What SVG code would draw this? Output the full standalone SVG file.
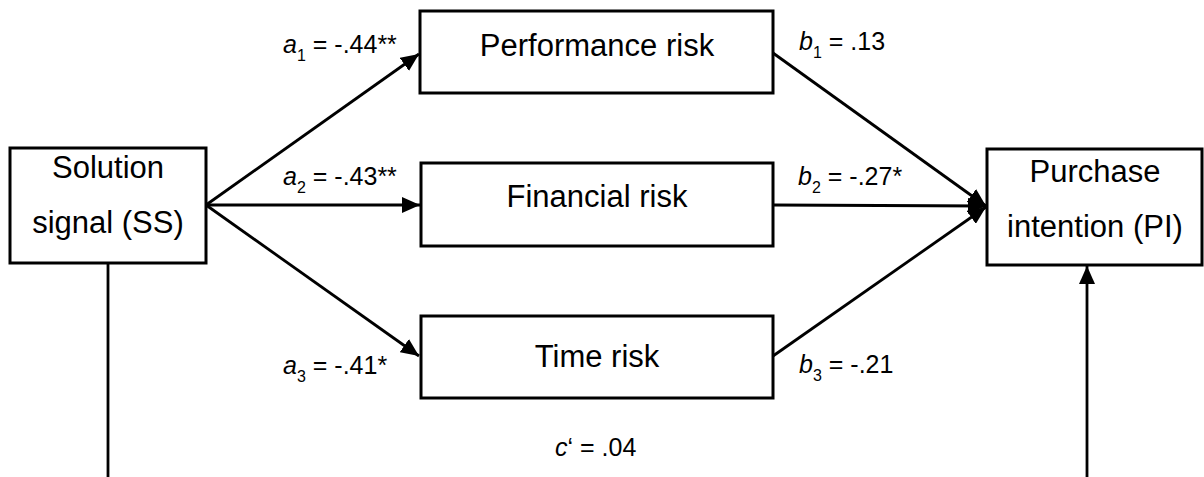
<svg xmlns="http://www.w3.org/2000/svg" width="1204" height="477" viewBox="0 0 1204 477">
<style>
.box{fill:#fff;stroke:#000;stroke-width:3}
.t{font-family:"Liberation Sans",Arial,sans-serif;font-size:31px;fill:#000;text-anchor:middle}
.l{font-family:"Liberation Sans",Arial,sans-serif;font-size:25px;fill:#000}
.s{font-size:16px}
.i{font-style:italic}
.c{stroke:#000;stroke-width:2.8;fill:none}
</style>
<defs>
<marker id="ah" markerUnits="userSpaceOnUse" markerWidth="19" markerHeight="16" refX="18" refY="8" orient="auto">
<path d="M0,0 L18,8 L0,16 z" fill="#000"/>
</marker>
</defs>
<rect width="1204" height="477" fill="#fff"/>
<g id="connectors">
<line class="c" x1="206" y1="205" x2="419" y2="54" marker-end="url(#ah)"/>
<line class="c" x1="206" y1="205" x2="420" y2="205" marker-end="url(#ah)"/>
<line class="c" x1="206" y1="205" x2="419" y2="356" marker-end="url(#ah)"/>
<line class="c" x1="773" y1="53" x2="986" y2="206" marker-end="url(#ah)"/>
<line class="c" x1="773" y1="205" x2="986" y2="206" marker-end="url(#ah)"/>
<line class="c" x1="773" y1="356" x2="986" y2="207" marker-end="url(#ah)"/>
<line class="c" x1="108" y1="263" x2="108" y2="477"/>
<line class="c" x1="1087" y1="477" x2="1087" y2="266" marker-end="url(#ah)"/>
</g>
<g id="ss">
<rect class="box" x="10" y="148" width="196" height="115"/>
<text class="t" x="108" y="178">Solution</text>
<text class="t" x="108" y="233">signal (SS)</text>
</g>
<g id="perf">
<rect class="box" x="420" y="11" width="353" height="82"/>
<text class="t" x="597" y="56">Performance risk</text>
</g>
<g id="fin">
<rect class="box" x="421" y="163" width="352" height="83"/>
<text class="t" x="597" y="207">Financial risk</text>
</g>
<g id="time">
<rect class="box" x="421" y="316" width="352" height="82"/>
<text class="t" x="597" y="367">Time risk</text>
</g>
<g id="pi">
<rect class="box" x="987" y="149" width="215" height="116"/>
<text class="t" x="1095" y="182">Purchase</text>
<text class="t" x="1095" y="237">intention (PI)</text>
</g>
<g id="labels">
<text class="l" x="283" y="53"><tspan class="i">a</tspan><tspan class="s" dy="8">1</tspan><tspan dy="-8"> = -.44**</tspan></text>
<text class="l" x="283" y="185"><tspan class="i">a</tspan><tspan class="s" dy="8">2</tspan><tspan dy="-8"> = -.43**</tspan></text>
<text class="l" x="283" y="374"><tspan class="i">a</tspan><tspan class="s" dy="8">3</tspan><tspan dy="-8"> = -.41*</tspan></text>
<text class="l" x="799" y="50"><tspan class="i">b</tspan><tspan class="s" dy="8">1</tspan><tspan dy="-8"> = .13</tspan></text>
<text class="l" x="798" y="185"><tspan class="i">b</tspan><tspan class="s" dy="8">2</tspan><tspan dy="-8"> = -.27*</tspan></text>
<text class="l" x="799" y="373"><tspan class="i">b</tspan><tspan class="s" dy="8">3</tspan><tspan dy="-8"> = -.21</tspan></text>
<text class="l" x="555" y="456"><tspan class="i">c</tspan>‘ = .04</text>
</g>
</svg>
